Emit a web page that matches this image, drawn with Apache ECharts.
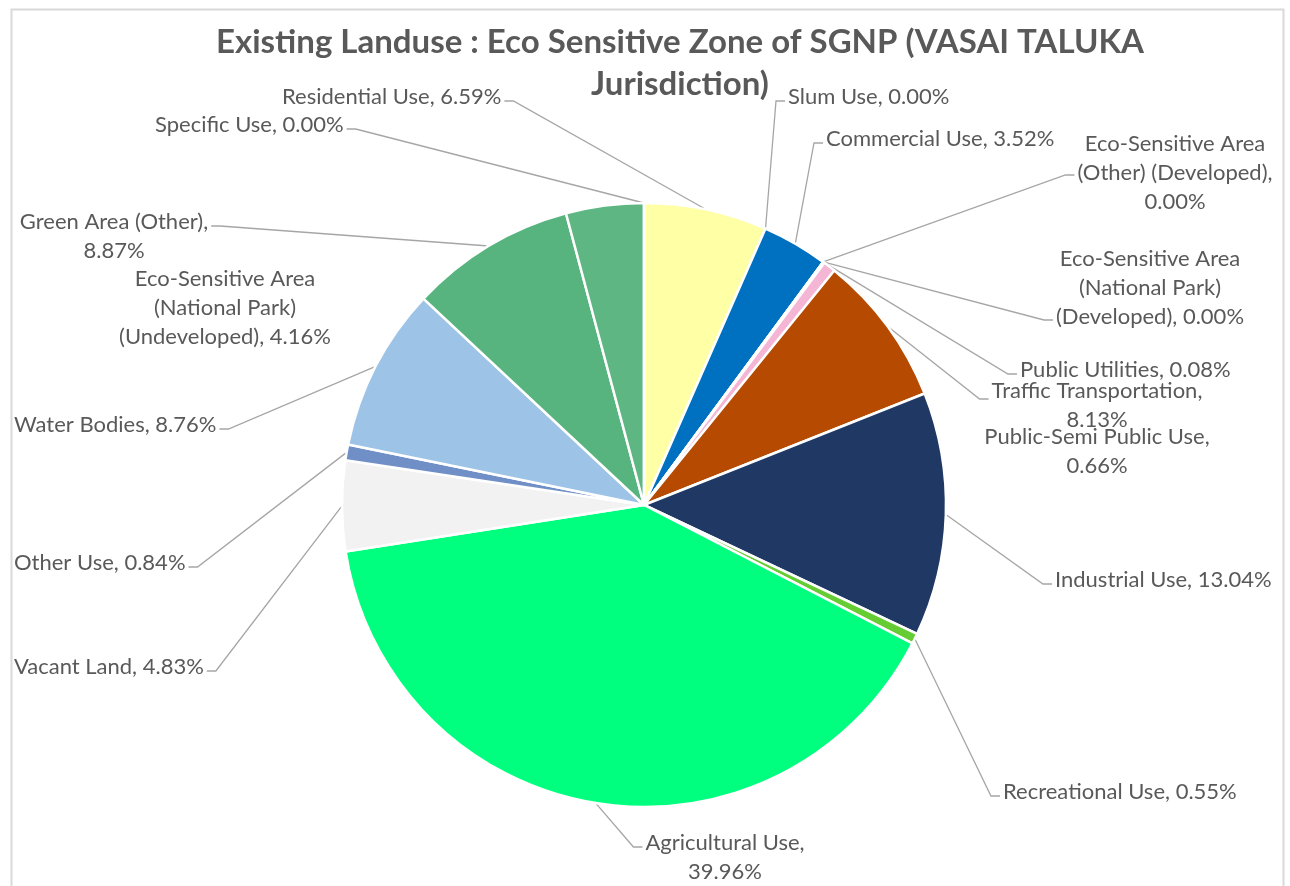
<!DOCTYPE html>
<html>
<head>
<meta charset="utf-8">
<script src="https://cdn.jsdelivr.net/npm/echarts@6/dist/echarts.min.js"></script>
<style>
html,body{margin:0;padding:0;background:#fff;}
#chart{width:1290px;height:886px;}
</style>
</head>
<body>
<div id="chart"></div>
<script>
// ---- data ----
const categories = [
  'Residential Use', 'Slum Use', 'Commercial Use',
  'Eco-Sensitive Area (Other) (Developed)',
  'Eco-Sensitive Area (National Park) (Developed)',
  'Public Utilities', 'Public-Semi Public Use', 'Traffic Transportation',
  'Industrial Use', 'Recreational Use', 'Agricultural Use', 'Vacant Land',
  'Other Use', 'Water Bodies', 'Green Area (Other)',
  'Eco-Sensitive Area (National Park) (Undeveloped)', 'Specific Use'
];
const values = [6.59, 0.00, 3.52, 0.00, 0.00, 0.08, 0.66, 8.13, 13.04, 0.55, 39.96, 4.83, 0.84, 8.76, 8.87, 4.16, 0.00];
const colors = ['#FFFFA6', '#D9D9D9', '#0070C0', '#BDD7EE', '#C9C9C9', '#F2DCDB', '#F4B6D4', '#B54A00',
  '#1F3864', '#66CC33', '#00FF7F', '#F2F2F2', '#6F8FC6', '#9DC3E6', '#58B47F', '#5EB783', '#D9D9D9'];
const titleText = 'Existing Landuse : Eco Sensitive Zone of SGNP (VASAI TALUKA\nJurisdiction)';

// ---- label layout (word counts per wrapped line, anchor positions) ----
const wrapWords = [null, null, null, [2, 2, 1], [2, 2, 2], null, [3, 1], [2, 1], null, null, [2, 1], null, null, null, [3, 1], [2, 2, 2], null];
const labelAnchor = [
  [282, 97, 'left'], [788, 97, 'left'], [826, 139, 'left'], [1175, 173, 'center'], [1150, 288, 'center'],
  [1020, 370, 'left'], [1097, 451, 'center'], [1097, 405, 'center'], [1055, 580, 'left'], [1003, 792, 'left'],
  [725, 857, 'center'], [14, 667, 'left'], [14, 563, 'left'], [14, 425, 'left'], [114, 236, 'center'],
  [225, 308, 'center'], [155, 125, 'left']
];
const attachDy = [4, 4, 4, 2, 32, 4, 0, -6, 4, 4, -10, 4, 4, 4, -10, 0, 4];
const showLine = [1, 1, 1, 1, 1, 1, 0, 1, 1, 1, 1, 1, 1, 1, 1, 0, 1];

const CX = 644, CY = 505, R = 302;

function wrapLabel(i, text) {
  const w = wrapWords[i];
  if (!w) return text;
  const words = text.split(' ');
  const lines = [];
  let k = 0;
  w.forEach(function (n) { lines.push(words.slice(k, k + n).join(' ')); k += n; });
  if (k < words.length) lines[lines.length - 1] += ' ' + words.slice(k).join(' ');
  return lines.join('\n');
}

const chart = echarts.init(document.getElementById('chart'), null, { renderer: 'canvas' });
const seriesData = categories.map(function (c, i) {
  return {
    name: c, value: values[i],
    itemStyle: { color: colors[i] },
    labelLine: { show: !!showLine[i] }
  };
});

chart.setOption({
  animation: false,
  backgroundColor: '#ffffff',
  graphic: [{
    type: 'rect', left: 9, top: 7, silent: true,
    shape: { width: 1272, height: 900 },
    style: { fill: 'none', stroke: '#D9D9D9', lineWidth: 2 }
  }],
  title: {
    text: titleText,
    left: 680, top: 21, textAlign: 'center', padding: 0,
    textStyle: { fontFamily: 'Lato', fontSize: 33, fontWeight: 'bold', color: '#595959', lineHeight: 42 }
  },
  series: [{
    type: 'pie',
    center: [CX, CY],
    radius: R,
    startAngle: 90,
    clockwise: true,
    avoidLabelOverlap: false,
    data: seriesData,
    itemStyle: { borderColor: '#ffffff', borderWidth: 2.5 },
    label: {
      show: true, position: 'outside',
      fontFamily: 'Lato', fontSize: 22, color: '#595959', lineHeight: 29,
      formatter: function (p) {
        return wrapLabel(p.dataIndex, p.name + ', ' + values[p.dataIndex].toFixed(2) + '%');
      }
    },
    labelLine: { show: true, length: 10, length2: 10, lineStyle: { color: '#A6A6A6', width: 1.3 } },
    emphasis: { disabled: true },
    labelLayout: function (p) {
      const i = p.dataIndex;
      const a = labelAnchor[i];
      const w = p.labelRect.width;
      const left = a[2] === 'left' ? a[0] : (a[2] === 'center' ? a[0] - w / 2 : a[0] - w);
      const onRight = (left + w / 2) > CX;
      const ax = onRight ? left - 3 : left + w + 3;
      const ay = a[1] + attachDy[i];
      const sx = onRight ? ax - 9 : ax + 9;
      let start;
      if (p.labelLinePoints && p.labelLinePoints[0]) {
        start = p.labelLinePoints[0].slice();
      } else {
        start = [CX, CY - R];
      }
      return {
        x: a[0], y: a[1], align: a[2], verticalAlign: 'middle',
        labelLinePoints: [start, [sx, ay], [ax, ay]]
      };
    }
  }]
});
</script>
</body>
</html>
